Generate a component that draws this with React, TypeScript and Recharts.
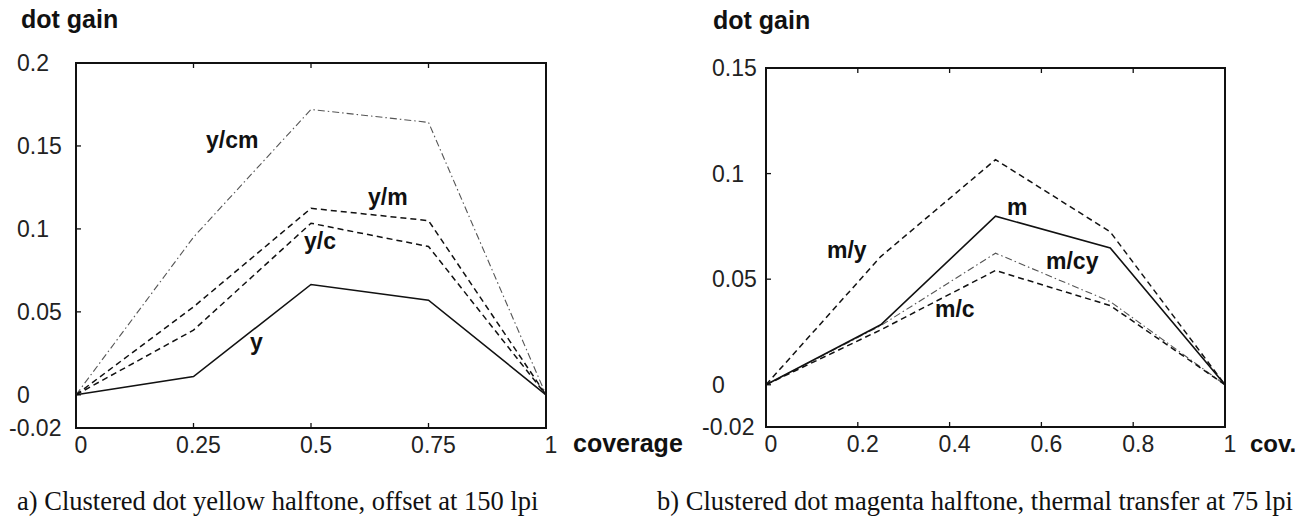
import React from 'react';
import { LineChart, Line, XAxis, YAxis, ReferenceArea } from 'recharts';

// shared x positions (coverage)
const coverage = [0, 0.25, 0.5, 0.75, 1];

// a) yellow halftone, offset 150 lpi
const yellowY = [0, 0.011, 0.0665, 0.057, 0];
const yellowYC = [0, 0.039, 0.1034, 0.0894, 0];
const yellowYM = [0, 0.053, 0.1124, 0.105, 0];
const yellowYCM = [0, 0.095, 0.172, 0.1642, 0];
const leftXTicks = [0, 0.25, 0.5, 0.75, 1];
const leftYTicks = [-0.02, 0, 0.05, 0.1, 0.15, 0.2];

// b) magenta halftone, thermal transfer 75 lpi
const magentaM = [0, 0.0284, 0.0798, 0.0648, 0];
const magentaMY = [0, 0.0607, 0.1066, 0.0724, 0];
const magentaMCY = [0, 0.028, 0.0623, 0.0394, 0];
const magentaMC = [0, 0.026, 0.0541, 0.0375, 0];
const rightXTicks = [0, 0.2, 0.4, 0.6, 0.8, 1];
const rightYTicks = [-0.02, 0, 0.05, 0.1, 0.15];

const leftRows = coverage.map((c, i) => ({
  c,
  y: yellowY[i],
  yc: yellowYC[i],
  ym: yellowYM[i],
  ycm: yellowYCM[i],
}));

const rightRows = coverage.map((c, i) => ({
  c,
  m: magentaM[i],
  my: magentaMY[i],
  mcy: magentaMCY[i],
  mc: magentaMC[i],
}));

const SANS = '"Liberation Sans", Arial, Helvetica, sans-serif';
const SERIF = '"Liberation Serif", "Times New Roman", serif';
const INK = '#111';

const SOLID = { stroke: INK, strokeWidth: 1.6 };
const DASH = { stroke: INK, strokeWidth: 1.5, strokeDasharray: '6 4' };
const DASHDOT = { stroke: '#555', strokeWidth: 1.1, strokeDasharray: '7 3 1.5 3' };

const CHART_H = 470;
const X_AXIS_H = 35;
const TICK = 5;

type SeriesDef = { key: string; style: any };

function Panel(props: {
  left: number;
  width: number;
  rows: any[];
  series: SeriesDef[];
  xTicks: number[];
  yTicks: number[];
  yDomain: [number, number];
  margin: { top: number; right: number; bottom: number; left: number };
  yAxisWidth: number;
  yLabelX: number;
  yLabelNegX: number;
}) {
  const { left, width, rows, series, xTicks, yTicks, yDomain, margin, yAxisWidth, yLabelX, yLabelNegX } = props;
  // plot edges (for inward tick marks)
  const plotTop = margin.top + 1;
  const plotBottom = CHART_H - margin.bottom - X_AXIS_H;
  const plotLeft = margin.left + yAxisWidth;
  const plotRight = width - margin.right - 1;

  const bottomTick = (p: any) => (
    <g>
      <line x1={p.x} x2={p.x} y1={plotBottom} y2={plotBottom - TICK} stroke={INK} strokeWidth={1.3} />
      <text x={p.x + 5} y={plotBottom + 25} textAnchor="middle" fontFamily={SANS} fontSize={23} fill="#222">
        {String(p.payload.value)}
      </text>
    </g>
  );
  const topTick = (p: any) => (
    <line x1={p.x} x2={p.x} y1={plotTop} y2={plotTop + TICK} stroke={INK} strokeWidth={1.3} />
  );
  const leftTick = (p: any) => {
    const v = p.payload.value;
    return (
      <g>
        <line x1={plotLeft} x2={plotLeft + TICK} y1={p.y} y2={p.y} stroke={INK} strokeWidth={1.3} />
        <text x={v < 0 ? yLabelNegX : yLabelX} y={p.y} dy="0.36em" textAnchor="start" fontFamily={SANS} fontSize={23} fill="#222">
          {String(v)}
        </text>
      </g>
    );
  };
  const rightTick = (p: any) => (
    <line x1={plotRight} x2={plotRight - TICK} y1={p.y} y2={p.y} stroke={INK} strokeWidth={1.3} />
  );

  return (
    <div style={{ position: 'absolute', left, top: 0 }}>
      <LineChart width={width} height={CHART_H} data={rows} margin={margin}>
        <XAxis
          xAxisId="b"
          type="number"
          dataKey="c"
          domain={[0, 1]}
          ticks={xTicks}
          interval={0}
          height={X_AXIS_H}
          axisLine={false}
          tickLine={false}
          tick={bottomTick}
        />
        <XAxis
          xAxisId="t"
          orientation="top"
          type="number"
          dataKey="c"
          domain={[0, 1]}
          ticks={xTicks}
          interval={0}
          height={1}
          axisLine={false}
          tickLine={false}
          tick={topTick}
        />
        <YAxis
          yAxisId="l"
          type="number"
          domain={yDomain}
          ticks={yTicks}
          interval={0}
          width={yAxisWidth}
          axisLine={false}
          tickLine={false}
          tick={leftTick}
        />
        <YAxis
          yAxisId="r"
          orientation="right"
          type="number"
          domain={yDomain}
          ticks={yTicks}
          interval={0}
          width={1}
          axisLine={false}
          tickLine={false}
          tick={rightTick}
        />
        <ReferenceArea
          xAxisId="b"
          yAxisId="l"
          x1={0}
          x2={1}
          y1={yDomain[0]}
          y2={yDomain[1]}
          fill="none"
          fillOpacity={0}
          stroke={INK}
          strokeWidth={2}
          ifOverflow="visible"
        />
        {series.map((s) => (
          <Line
            key={s.key}
            xAxisId="b"
            yAxisId="l"
            type="linear"
            dataKey={s.key}
            dot={false}
            activeDot={false}
            isAnimationActive={false}
            {...s.style}
          />
        ))}
      </LineChart>
    </div>
  );
}

const bold = { fontFamily: SANS, fontWeight: 700, fill: INK } as const;

export default function App() {
  return (
    <div
      style={{
        position: 'absolute',
        left: 0,
        top: 0,
        width: 1311,
        height: 520,
        background: '#fff',
        overflow: 'hidden',
      }}
    >
      <Panel
        left={0}
        width={640}
        rows={leftRows}
        series={[
          { key: 'ycm', style: DASHDOT },
          { key: 'ym', style: DASH },
          { key: 'yc', style: DASH },
          { key: 'y', style: SOLID },
        ]}
        xTicks={leftXTicks}
        yTicks={leftYTicks}
        yDomain={[-0.02, 0.2]}
        margin={{ top: 62, right: 93, bottom: 7, left: 10 }}
        yAxisWidth={66}
        yLabelX={17}
        yLabelNegX={9}
      />
      <Panel
        left={680}
        width={631}
        rows={rightRows}
        series={[
          { key: 'my', style: DASH },
          { key: 'mcy', style: DASHDOT },
          { key: 'mc', style: DASH },
          { key: 'm', style: SOLID },
        ]}
        xTicks={rightXTicks}
        yTicks={rightYTicks}
        yDomain={[-0.02, 0.15]}
        margin={{ top: 67, right: 85, bottom: 8, left: 10 }}
        yAxisWidth={76}
        yLabelX={32}
        yLabelNegX={22}
      />
      <svg
        width={1311}
        height={520}
        style={{ position: 'absolute', left: 0, top: 0, pointerEvents: 'none' }}
      >
        <text x={21} y={28} fontSize={25} {...bold}>dot gain</text>
        <text x={713} y={29} fontSize={25} {...bold}>dot gain</text>
        <text x={573} y={452} fontSize={25} {...bold}>coverage</text>
        <text x={1250} y={452} fontSize={24} {...bold}>cov.</text>

        <text x={206} y={148} fontSize={23} {...bold}>y/cm</text>
        <text x={368} y={205} fontSize={23} {...bold}>y/m</text>
        <text x={304} y={249} fontSize={23} {...bold}>y/c</text>
        <text x={250} y={350} fontSize={23} {...bold}>y</text>

        <text x={827} y={258} fontSize={23} {...bold}>m/y</text>
        <text x={1007} y={215} fontSize={23} {...bold}>m</text>
        <text x={1046} y={269} fontSize={23} {...bold}>m/cy</text>
        <text x={935} y={317} fontSize={23} {...bold}>m/c</text>

        <text x={17} y={510} fontFamily={SERIF} fontSize={26.5} fill={INK}>
          a) Clustered dot yellow halftone, offset at 150 lpi
        </text>
        <text x={657} y={510} fontFamily={SERIF} fontSize={26.5} fill={INK}>
          b) Clustered dot magenta halftone, thermal transfer at 75 lpi
        </text>
      </svg>
    </div>
  );
}
